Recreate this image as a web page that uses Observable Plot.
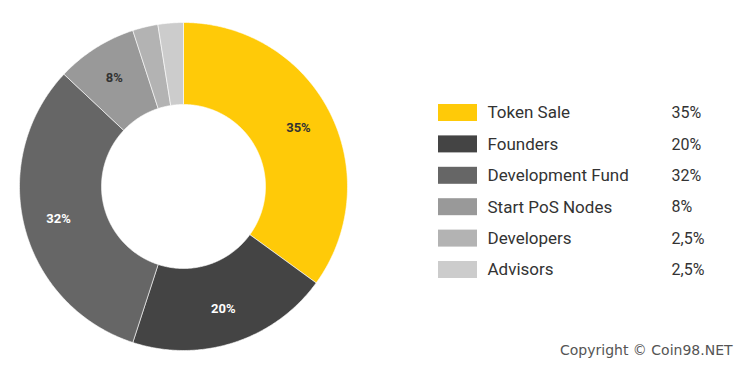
<!DOCTYPE html>
<html>
<head>
<meta charset="utf-8">
<script src="https://cdn.jsdelivr.net/npm/d3@7"></script>
<script src="https://cdn.jsdelivr.net/npm/@observablehq/plot@0.6"></script>
<style>
  html, body { margin: 0; padding: 0; background: #fff; }
  #chart { position: relative; width: 744px; height: 365px; }
  #copy { position: absolute; left: 560px; top: 342px; font-family: "DejaVu Sans", sans-serif; font-size: 14px; color: #555; white-space: nowrap; }
</style>
</head>
<body>
<div id="chart"></div>
<script>
const categories = ["Token Sale", "Founders", "Development Fund", "Start PoS Nodes", "Developers", "Advisors"];
const values = [35, 20, 32, 8, 2.5, 2.5];
const valueLabels = ["35%", "20%", "32%", "8%", "2,5%", "2,5%"];
const sliceLabels = ["35%", "20%", "32%", "8%", "", ""];
const colors = ["#FFCA08", "#444444", "#666666", "#999999", "#B3B3B3", "#CCCCCC"];
const labelColors = ["#333333", "#ffffff", "#ffffff", "#333333", "#333333", "#333333"];

const W = 744, H = 365;
const cx = 183, cy = 186, rOuter = 164, rInner = 82, rLabel = 129;

const pie = d3.pie().sort(null).value(d => d.value)(
  categories.map((c, i) => ({cat: c, value: values[i], i}))
);

// polygon points for each slice
const pts = [];
for (const s of pie) {
  const n = Math.max(8, Math.ceil((s.endAngle - s.startAngle) / 0.01));
  const ring = [];
  for (let k = 0; k <= n; k++) {
    const a = s.startAngle + (s.endAngle - s.startAngle) * k / n;
    ring.push([cx + rOuter * Math.sin(a), cy - rOuter * Math.cos(a)]);
  }
  for (let k = n; k >= 0; k--) {
    const a = s.startAngle + (s.endAngle - s.startAngle) * k / n;
    ring.push([cx + rInner * Math.sin(a), cy - rInner * Math.cos(a)]);
  }
  ring.push(ring[0]);
  for (const [x, y] of ring) pts.push({cat: s.data.cat, x, y});
}

const labels = pie.map(s => {
  const a = (s.startAngle + s.endAngle) / 2;
  return {cat: s.data.cat, text: sliceLabels[s.data.i], color: labelColors[s.data.i],
          x: cx + rLabel * Math.sin(a), y: cy - rLabel * Math.cos(a)};
});

const legend = categories.map((c, i) => ({cat: c, val: valueLabels[i], y: 112.5 + i * 31.4}));

const chart = Plot.plot({
  width: W, height: H,
  margin: 0,
  x: {domain: [0, W], range: [0, W], axis: null},
  y: {domain: [0, H], range: [0, H], axis: null},
  color: {domain: categories, range: colors},
  style: {fontFamily: "Roboto, sans-serif", background: "#fff"},
  marks: [
    Plot.line(pts, {x: "x", y: "y", z: "cat", fill: "cat", stroke: "#ffffff", strokeWidth: 0.6, curve: "linear"}),
    Plot.text(labels, {x: "x", y: "y", text: "text", fill: "color", fontSize: 13, fontWeight: "bold"}),
    Plot.rect(legend, {x1: 438, x2: 477, y1: d => d.y - 8.5, y2: d => d.y + 8.5, fill: "cat"}),
    Plot.text(legend, {x: 487, y: "y", text: "cat", textAnchor: "start", fontSize: 17, fill: "#333"}),
    Plot.text(legend, {x: 671, y: "y", text: "val", textAnchor: "start", fontSize: 16, fill: "#333"})
  ]
});
document.getElementById("chart").appendChild(chart);
const cp = document.createElement("div");
cp.id = "copy";
cp.textContent = "Copyright © Coin98.NET";
document.getElementById("chart").appendChild(cp);
</script>
</body>
</html>
